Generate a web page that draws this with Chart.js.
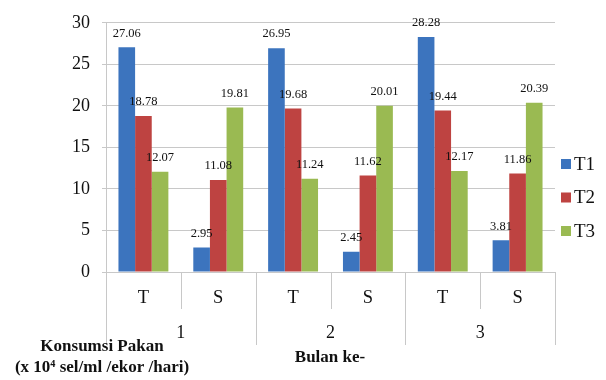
<!DOCTYPE html>
<html>
<head>
<meta charset="utf-8">
<style>
  html, body { margin: 0; padding: 0; background: #ffffff; }
  #wrap { width: 606px; height: 380px; position: relative; }
</style>
<script src="https://cdn.jsdelivr.net/npm/chart.js@4/dist/chart.umd.min.js"></script>
</head>
<body>
<div id="wrap"><canvas id="c" width="606" height="380"></canvas></div>
<script>
// Feed consumption per treatment, month 1-3, T and S samplings
const categories = ['T', 'S', 'T', 'S', 'T', 'S'];
const months = ['1', '2', '3'];
const seriesNames = ['T1', 'T2', 'T3'];
const t1Values = [27.06, 2.95, 26.95, 2.45, 28.28, 3.81];
const t2Values = [18.78, 11.08, 19.68, 11.62, 19.44, 11.86];
const t3Values = [12.07, 19.81, 11.24, 20.01, 12.17, 20.39];
const yTicks = [0, 5, 10, 15, 20, 25, 30];
const yAxisLabel = ['Konsumsi Pakan', '(x 10\u2074 sel/ml /ekor /hari)'];
const xAxisLabel = 'Bulan ke-';

const colors = ['#3c74be', '#be4341', '#9aba52'];
const SERIF = '"Liberation Serif", "Times New Roman", serif';
const GRID = '#c8c8c8';

// Value labels above each bar, group separators, month labels, axis titles and legend
const decorations = {
  id: 'decorations',
  afterDatasetsDraw(chart) {
    const ctx = chart.ctx;
    ctx.save();
    ctx.font = '12.5px ' + SERIF;
    ctx.fillStyle = '#111';
    ctx.textAlign = 'center';
    ctx.textBaseline = 'middle';
    chart.data.datasets.forEach((ds, i) => {
      const meta = chart.getDatasetMeta(i);
      meta.data.forEach((bar, j) => {
        ctx.fillText(ds.data[j].toFixed(2), bar.x, bar.y - 14);
      });
    });
    ctx.restore();
  },
  afterDraw(chart) {
    const ctx = chart.ctx;
    const x = chart.scales.x;
    const area = chart.chartArea;
    const step = x.getPixelForValue(1) - x.getPixelForValue(0);
    ctx.save();
    ctx.strokeStyle = GRID;
    ctx.lineWidth = 1;
    // separators below the axis: short between T and S, long between months
    for (let k = 0; k <= categories.length; k++) {
      const px = Math.round(x.getPixelForValue(0) - step / 2 + k * step) + 0.5;
      const long = k % 2 === 0;
      ctx.beginPath();
      ctx.moveTo(px, area.bottom);
      ctx.lineTo(px, area.bottom + (long ? 73 : 37));
      ctx.stroke();
    }
    // month labels centred under each pair
    ctx.fillStyle = '#111';
    ctx.font = '18px ' + SERIF;
    ctx.textAlign = 'center';
    ctx.textBaseline = 'middle';
    months.forEach((m, g) => {
      const cx = (x.getPixelForValue(2 * g) + x.getPixelForValue(2 * g + 1)) / 2;
      ctx.fillText(m, cx, area.bottom + 61);
    });
    // axis titles
    ctx.font = 'bold 17px ' + SERIF;
    ctx.fillText(yAxisLabel[0], 102, 347);
    ctx.fillText(yAxisLabel[1], 102, 368);
    ctx.fillText(xAxisLabel, 330, 358);
    // legend
    ctx.textAlign = 'left';
    ctx.font = '19px ' + SERIF;
    seriesNames.forEach((name, i) => {
      const cy = 164 + i * 33.5;
      ctx.fillStyle = colors[i];
      ctx.fillRect(561, cy - 5, 10, 10);
      ctx.fillStyle = '#111';
      ctx.fillText(name, 574, cy + 1);
    });
    ctx.restore();
  }
};

new Chart(document.getElementById('c'), {
  type: 'bar',
  data: {
    labels: categories,
    datasets: [
      { label: seriesNames[0], data: t1Values, backgroundColor: colors[0] },
      { label: seriesNames[1], data: t2Values, backgroundColor: colors[1] },
      { label: seriesNames[2], data: t3Values, backgroundColor: colors[2] }
    ]
  },
  options: {
    responsive: false,
    animation: false,
    devicePixelRatio: 1,
    layout: { padding: { left: 0, right: 51, top: 22, bottom: 0 } },
    datasets: { bar: { categoryPercentage: 0.667, barPercentage: 1.0 } },
    plugins: { legend: { display: false }, tooltip: { enabled: false } },
    scales: {
      x: {
        grid: { display: false, drawTicks: false },
        border: { display: true, color: GRID },
        ticks: { color: '#111', font: { family: SERIF, size: 18.5 }, padding: 15 },
        afterFit(scale) { scale.height = 108; }
      },
      y: {
        min: 0,
        max: 30,
        afterBuildTicks(scale) { scale.ticks = yTicks.map(v => ({ value: v })); },
        grid: { color: GRID, tickLength: 4, drawTicks: true },
        border: { display: true, color: GRID },
        ticks: { color: '#111', font: { family: SERIF, size: 18 }, padding: 12 },
        afterFit(scale) { scale.width = 106; }
      }
    }
  },
  plugins: [decorations]
});
</script>
</body>
</html>
